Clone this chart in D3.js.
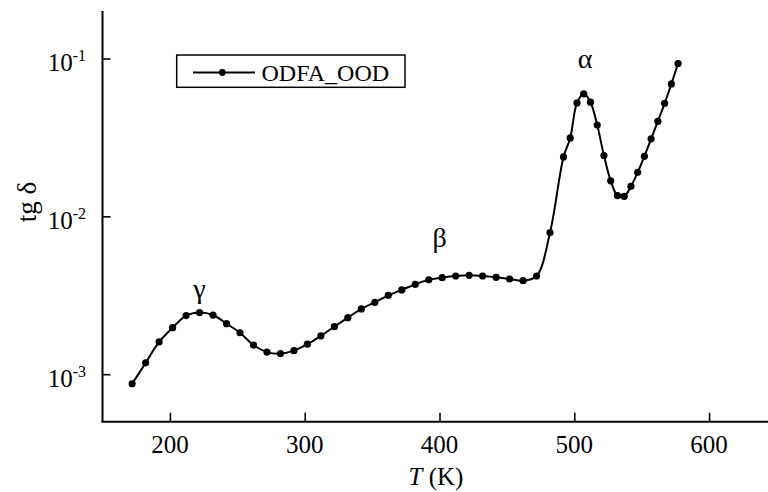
<!DOCTYPE html>
<html>
<head>
<meta charset="utf-8">
<script src="https://cdn.jsdelivr.net/npm/d3@7"></script>
<style>
  html, body { margin: 0; padding: 0; background: #fff; }
  svg { display: block; }
</style>
</head>
<body>
<svg id="chart" width="768" height="492" font-family="'Liberation Serif', 'Times New Roman', Times, serif"></svg>
<script>
// Temperature (K) of each measurement
const temperature = [172, 182, 192, 202, 212, 222, 232, 242, 252, 262, 272, 282, 292, 302, 312,
  322, 332, 342, 352, 362, 372, 382, 392, 402, 412, 422, 432, 442, 452, 462, 472, 482,
  492, 497, 502, 507, 512, 517, 522, 527, 532, 537, 542, 547, 552, 557, 562, 567, 572, 577];
// Loss tangent tg δ for ODFA_OOD
const tgDelta = [8.7e-4, 1.18e-3, 1.60e-3, 1.97e-3, 2.35e-3, 2.46e-3, 2.37e-3, 2.09e-3, 1.83e-3,
  1.53e-3, 1.38e-3, 1.35e-3, 1.41e-3, 1.55e-3, 1.75e-3, 2.00e-3, 2.28e-3, 2.59e-3, 2.85e-3,
  3.16e-3, 3.42e-3, 3.71e-3, 3.96e-3, 4.09e-3, 4.19e-3, 4.23e-3, 4.19e-3, 4.11e-3, 4.01e-3,
  3.91e-3, 4.19e-3, 7.9e-3,
  0.0238, 0.0314, 0.0523, 0.0597, 0.0529, 0.0379, 0.0243, 0.0168, 0.01355, 0.0134,
  0.0155, 0.019, 0.024, 0.031, 0.040, 0.052, 0.069, 0.093];
const seriesName = "ODFA_OOD";
// Axis ticks
const xTicks = [200, 300, 400, 500, 600];
const xMinorTicks = [250, 350, 450, 550];
const yMajorTicks = [1e-3, 1e-2, 1e-1];
const yMajorExponents = ["-3", "-2", "-1"];
// Relaxation peak labels
const peakLabels = ["γ", "β", "α"];
const peakT = [222, 400, 508];
const peakValue = [0.00305, 0.0064, 0.0865];

const FONT = "'Liberation Serif', 'Times New Roman', Times, serif";
const svg = d3.select("#chart");
const plotLeft = 102.5, plotTop = 11, plotBottom = 421.7;

const x = d3.scaleLinear().domain([150, 650]).range([plotLeft, plotLeft + 674]);
const y = d3.scaleLog().domain([5e-4, 0.2]).range([plotBottom, plotTop]);

const data = temperature.map((t, i) => ({ t, v: tgDelta[i] }));

// minor y ticks: 2..9 within each decade
const yMinor = [];
for (let e = -4; e <= -1; e++) {
  for (let m = 2; m <= 9; m++) {
    const v = m * Math.pow(10, e);
    if (v >= 5e-4 - 1e-12 && v <= 0.2 + 1e-12) yMinor.push(v);
  }
}

// Left axis (ticks inward)
const yAxisMajor = d3.axisRight(y).tickValues(yMajorTicks).tickSize(8).tickFormat("");
const yAxisMinor = d3.axisRight(y).tickValues(yMinor).tickSize(5).tickFormat("");
const gy = svg.append("g").attr("transform", `translate(${plotLeft},0)`);
gy.call(yAxisMinor);
gy.call(yAxisMajor);
gy.selectAll(".domain").remove();
gy.selectAll("line").attr("stroke", "#000").attr("stroke-width", 1.6);
svg.append("line").attr("x1", plotLeft).attr("x2", plotLeft).attr("y1", plotTop).attr("y2", plotBottom + 0.8)
  .attr("stroke", "#000").attr("stroke-width", 2);

// y tick labels with superscript exponents
yMajorTicks.forEach((v, i) => {
  const t = svg.append("text")
    .attr("x", 86).attr("y", y(v) + 12.5)
    .attr("text-anchor", "end")
    .attr("font-family", FONT)
    .attr("font-size", 25);
  t.append("tspan").text("10");
  t.append("tspan").attr("dy", -10).attr("font-size", 16).text(yMajorExponents[i]);
});

// Bottom axis (ticks inward)
const xAxisMajor = d3.axisTop(x).tickValues(xTicks).tickSize(9).tickFormat("");
const xAxisMinor = d3.axisTop(x).tickValues(xMinorTicks).tickSize(5).tickFormat("");
const gx = svg.append("g").attr("transform", `translate(0,${plotBottom})`);
gx.call(xAxisMinor);
gx.call(xAxisMajor);
gx.selectAll(".domain").remove();
gx.selectAll("line").attr("stroke", "#000").attr("stroke-width", 1.6);
svg.append("line").attr("x1", plotLeft - 0.8).attr("x2", 768).attr("y1", plotBottom).attr("y2", plotBottom)
  .attr("stroke", "#000").attr("stroke-width", 2);

xTicks.forEach(v => {
  svg.append("text").attr("x", x(v)).attr("y", 453)
    .attr("text-anchor", "middle").attr("font-family", FONT).attr("font-size", 25).text(v);
});

// Axis titles
const xt = svg.append("text").attr("x", 436).attr("y", 485)
  .attr("text-anchor", "middle").attr("font-family", FONT).attr("font-size", 25);
xt.append("tspan").attr("font-style", "italic").text("T");
xt.append("tspan").text(" (K)");

svg.append("text")
  .attr("transform", "translate(36,202) rotate(-90)")
  .attr("text-anchor", "middle").attr("font-family", FONT).attr("font-size", 27)
  .text("tg δ");

// Curve and markers
const line = d3.line()
  .x(d => x(d.t)).y(d => y(d.v))
  .curve(d3.curveCatmullRom.alpha(0.5));

svg.append("path").datum(data)
  .attr("d", line).attr("fill", "none")
  .attr("stroke", "#000").attr("stroke-width", 2);

svg.append("g").selectAll("circle").data(data).join("circle")
  .attr("cx", d => x(d.t)).attr("cy", d => y(d.v)).attr("r", 3.6)
  .attr("fill", "#000");

// Peak labels
peakLabels.forEach((s, i) => {
  svg.append("text").attr("x", x(peakT[i])).attr("y", y(peakValue[i]))
    .attr("text-anchor", "middle").attr("font-family", FONT).attr("font-size", 28).text(s);
});

// Legend
const lg = svg.append("g");
lg.append("rect").attr("x", 176.7).attr("y", 55).attr("width", 228.3).attr("height", 32.3)
  .attr("fill", "#fff").attr("stroke", "#000").attr("stroke-width", 1.5);
lg.append("line").attr("x1", 193).attr("x2", 255).attr("y1", 72.5).attr("y2", 72.5)
  .attr("stroke", "#000").attr("stroke-width", 2);
lg.append("circle").attr("cx", 222.3).attr("cy", 72.5).attr("r", 3.4).attr("fill", "#000");
lg.append("text").attr("x", 261.5).attr("y", 80.5).attr("font-family", FONT).attr("font-size", 24).text(seriesName);
</script>
</body>
</html>
